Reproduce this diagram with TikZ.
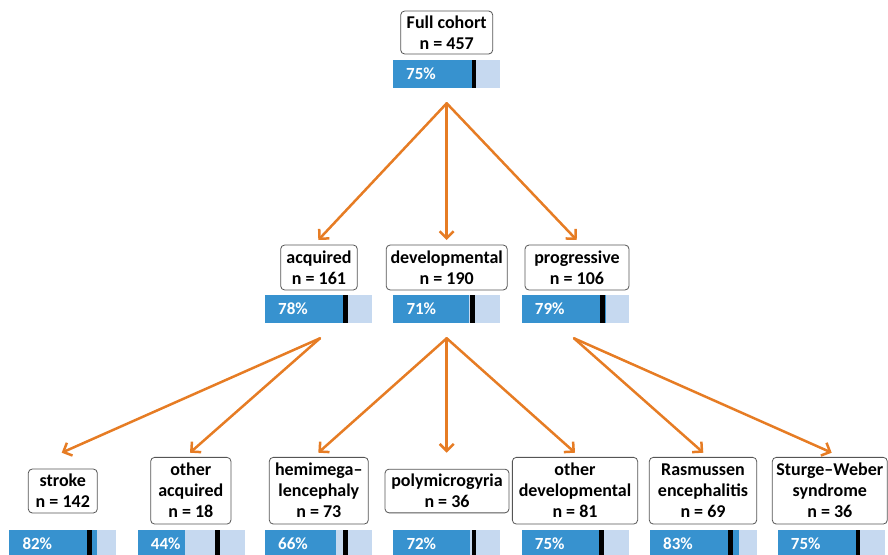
\documentclass[tikz,border=0pt]{standalone}
\usepackage{fontspec}
\setmainfont{Carlito}
\usetikzlibrary{arrows.meta}
\definecolor{arr}{RGB}{230,124,36}
\definecolor{bardark}{RGB}{55,146,207}
\definecolor{barlight}{RGB}{198,217,240}
\definecolor{boxline}{RGB}{85,85,85}
\tikzset{
 catbox/.style={draw=boxline, line width=0.8pt, rounded corners=4pt, fill=white, align=center,
   font=\fontsize{18}{21}\selectfont\bfseries, inner sep=0pt},
 flow/.style={draw=arr, line width=2.5pt, line cap=round,
   -{Straight Barb[length=7pt,width=14pt,line width=2.5pt]}},
 pct/.style={text=white, font=\fontsize{17}{20}\selectfont\bfseries, anchor=west, inner sep=0pt},
 lightbar/.style={fill=barlight},
 darkbar/.style={fill=bardark},
 markbar/.style={fill=black}
}
% #1 name, #2 x0, #3 y0, #4 percent, #5 marker x
\newcommand{\pbar}[5]{%
  \fill[lightbar] (#2,#3) rectangle ++(107,28);
  \fill[darkbar] (#2,#3) rectangle ++({1.07*#4},28);
  \fill[markbar] (#5,#3) rectangle ++(4.5,28);
  \node[pct] (#1) at ({#2+13},{#3+14}) {#4\%};
}
\begin{document}
\begin{tikzpicture}[x=1pt,y=-1pt]
\useasboundingbox (0,0) rectangle (888,554);

% top
\node[catbox, minimum width=92pt, minimum height=43pt] (full) at (446.7,32.5) {Full cohort\\n = 457};
\pbar{pfull}{393}{60}{75}{471.7}

% middle
\node[catbox, minimum width=76.6pt, minimum height=45pt] (acq) at (319,267.5) {acquired\\n = 161};
\node[catbox, minimum width=121pt, minimum height=45pt] (dev) at (446.7,267.5) {developmental\\n = 190};
\node[catbox, minimum width=104pt, minimum height=45pt] (prog) at (577,267.5) {progressive\\n = 106};
\pbar{pacq}{265}{295}{78}{343.3}
\pbar{pdev}{393.3}{295}{71}{470}
\pbar{pprog}{521.7}{295}{79}{600}

% bottom
\node[catbox, minimum width=69pt, minimum height=44pt] (stroke) at (62.8,491) {stroke\\n = 142};
\node[catbox, minimum width=80.3pt, minimum height=66.7pt] (oacq) at (190.8,490.7) {other\\acquired\\n = 18};
\node[catbox, minimum width=99pt, minimum height=66.7pt] (hemi) at (318.8,490.7) {hemimega--\\lencephaly\\n = 73};
\node[catbox, minimum width=124pt, minimum height=43.7pt] (poly) at (447,491) {polymicrogyria\\n = 36};
\node[catbox, minimum width=125.3pt, minimum height=66.7pt] (odev) at (575,490.7) {other\\developmental\\n = 81};
\node[catbox, minimum width=107.4pt, minimum height=66.7pt] (ras) at (703,490.7) {Rasmussen\\encephalitis\\n = 69};
\node[catbox, minimum width=115pt, minimum height=66.7pt] (sw) at (829.8,490.7) {Sturge--Weber\\syndrome\\n = 36};
\pbar{pstroke}{9.3}{530}{82}{87.3}
\pbar{poacq}{137.7}{530}{44}{215}
\pbar{phemi}{265}{530}{66}{343.3}
\pbar{ppoly}{393.3}{530}{72}{471.7}
\pbar{podev}{521.7}{530}{75}{599.3}
\pbar{pras}{650}{530}{83}{728.3}
\pbar{psw}{777.7}{530}{75}{855.5}

% connector coordinates
\coordinate (s0) at (446.7,103.3);
\coordinate (eacq) at (318.3,240);
\coordinate (edev) at (446.7,240);
\coordinate (eprog) at (576.7,240);
\coordinate (sacq) at (320,338.3);
\coordinate (sdev) at (446.7,338.3);
\coordinate (sprog) at (574,338.3);
\coordinate (estroke) at (61.7,452.7);
\coordinate (eoacq) at (190,452.7);
\coordinate (ehemi) at (318.3,452.7);
\coordinate (epoly) at (446.7,452.7);
\coordinate (eodev) at (575,452.7);
\coordinate (eras) at (703.3,452.7);
\coordinate (esw) at (831.7,452.7);

\draw[flow] (s0) -- (eacq);
\draw[flow] (s0) -- (edev);
\draw[flow] (s0) -- (eprog);
\draw[flow] (sacq) -- (estroke);
\draw[flow] (sacq) -- (eoacq);
\draw[flow] (sdev) -- (ehemi);
\draw[flow] (sdev) -- (epoly);
\draw[flow] (sdev) -- (eodev);
\draw[flow] (sprog) -- (eras);
\draw[flow] (sprog) -- (esw);
\end{tikzpicture}
\end{document}
